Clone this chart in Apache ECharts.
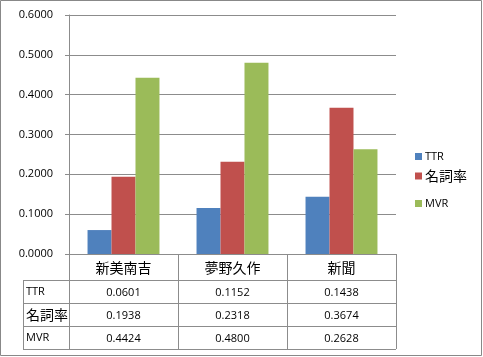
<!DOCTYPE html>
<html><head><meta charset="utf-8">
<script src="https://cdn.jsdelivr.net/npm/echarts@6/dist/echarts.min.js"></script>
<style>html,body{margin:0;padding:0;background:#fff}#c{width:483px;height:357px}</style>
</head><body><div id="c"></div>
<script>
const categories = ['新美南吉', '夢野久作', '新聞'];
const seriesNames = ['TTR', '名詞率', 'MVR'];
const ttr = [0.0601, 0.1152, 0.1438];
const meishi = [0.1938, 0.2318, 0.3674];
const mvr = [0.4424, 0.4800, 0.2628];
const colors = ['#4F81BD', '#C0504D', '#9BBB59'];
const allValues = [ttr, meishi, mvr];

const FONT = '"Open Sans", "Noto Sans CJK JP", sans-serif';
const CJK = '"Noto Sans CJK JP", sans-serif';
const gridCol = '#8c8c8c';

const chart = echarts.init(document.getElementById('c'));
const legendTops = [146, 164, 193];
const option = {
  animation: false,
  textStyle: { fontFamily: FONT },
  grid: { left: 69, right: 87, top: 15, bottom: 103 },
  xAxis: {
    type: 'category', data: categories,
    axisLine: { lineStyle: { color: gridCol } },
    axisTick: { show: false },
    axisLabel: { show: false }
  },
  yAxis: {
    type: 'value', min: 0, max: 0.6, interval: 0.1,
    axisLine: { show: true, lineStyle: { color: gridCol } },
    axisTick: { show: true, length: 4, lineStyle: { color: gridCol } },
    splitLine: { lineStyle: { color: gridCol } },
    axisLabel: { formatter: v => v.toFixed(4), color: '#000', fontSize: 11, margin: 16, fontFamily: FONT }
  },
  legend: seriesNames.map((n, i) => ({
    data: [n], left: 410, top: legendTops[i], itemWidth: 7, itemHeight: 7, icon: 'rect', itemGap: 4,
    textStyle: { color: '#000', fontSize: i === 1 ? 14 : 11, fontFamily: i === 1 ? CJK : FONT, padding: [0, 0, 0, -2] }
  })),
  series: seriesNames.map((n, i) => ({
    name: n, type: 'bar', data: allValues[i], barGap: 0, barCategoryGap: '34%',
    itemStyle: { color: colors[i] }
  }))
};
chart.setOption(option);

const c0 = chart.convertToPixel({ xAxisIndex: 0 }, 0);
const c1 = chart.convertToPixel({ xAxisIndex: 0 }, 1);
const step = c1 - c0;
const left0 = c0 - step / 2;
const right0 = left0 + step * categories.length;
const y0 = chart.convertToPixel({ yAxisIndex: 0 }, 0);
const headerH = 26, rowH = 23;
const tableLeft = 23;
const rowTops = [y0 + headerH, y0 + headerH + rowH, y0 + headerH + 2 * rowH];
const tableBottom = y0 + headerH + 3 * rowH;
const ln = (x1, y1, x2, y2) => ({ type: 'line', shape: { x1, y1, x2, y2 }, style: { stroke: gridCol, lineWidth: 1 }, silent: true });
const g = [];
g.push({ type: 'rect', shape: { x: 0.5, y: 0.5, width: 481, height: 355 }, style: { fill: 'none', stroke: '#888', lineWidth: 1 }, silent: true });
for (let i = 0; i <= categories.length; i++) {
  const x = Math.round(left0 + i * step) + 0.5;
  g.push(ln(x, y0, x, tableBottom));
}
g.push(ln(tableLeft + 0.5, rowTops[0], tableLeft + 0.5, tableBottom));
rowTops.forEach(y => g.push(ln(tableLeft, Math.round(y) + 0.5, right0, Math.round(y) + 0.5)));
g.push(ln(tableLeft, Math.round(tableBottom) + 0.5, right0, Math.round(tableBottom) + 0.5));
categories.forEach((cat, j) => {
  const cx = left0 + step * (j + 0.5);
  g.push({ type: 'text', x: cx, y: y0 + headerH / 2 + 1, style: { text: cat, fill: '#000', font: '14px ' + CJK, textAlign: 'center', textVerticalAlign: 'middle' }, silent: true });
  allValues.forEach((vals, i) => {
    g.push({ type: 'text', x: cx, y: rowTops[i] + rowH / 2 + 1, style: { text: vals[j].toFixed(4), fill: '#000', font: '11px ' + FONT, textAlign: 'center', textVerticalAlign: 'middle' }, silent: true });
  });
});
seriesNames.forEach((n, i) => {
  const isCjk = /[^\x00-\x7f]/.test(n);
  g.push({ type: 'text', x: tableLeft + 3, y: rowTops[i] + rowH / 2 + (isCjk ? 0 : 0), style: { text: n, fill: '#000', font: (isCjk ? '14px ' + CJK : '11px ' + FONT), textAlign: 'left', textVerticalAlign: 'middle' }, silent: true });
});
chart.setOption({ graphic: g });
</script></body></html>
